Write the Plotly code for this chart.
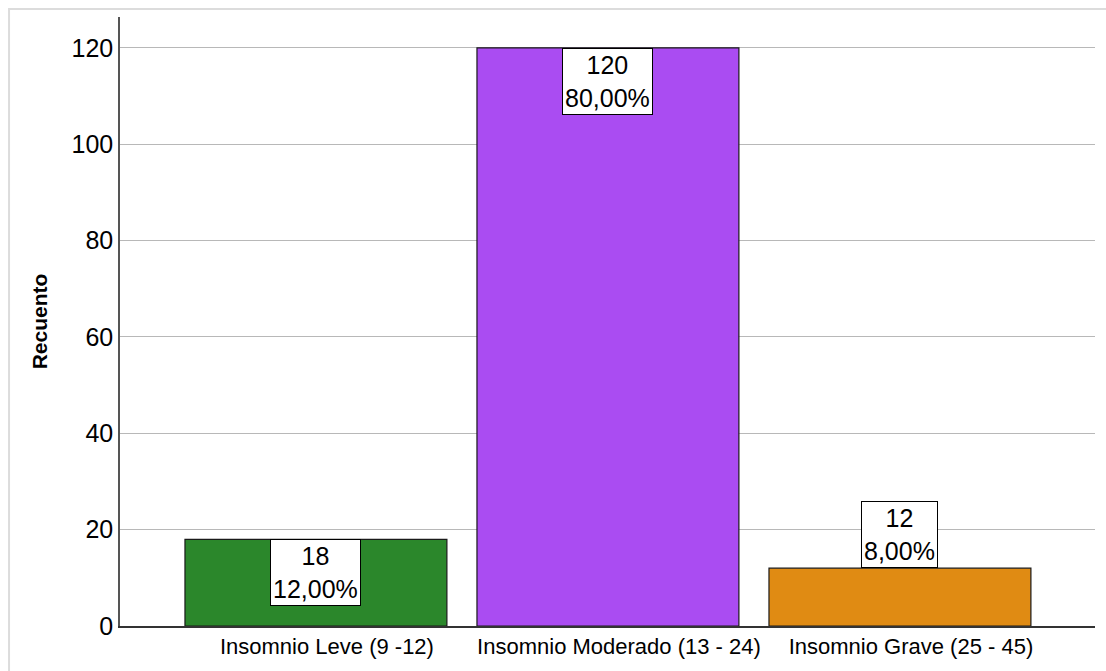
import plotly.graph_objects as go

# Insomnia severity categories and their counts
categorias = ["Insomnio Leve (9 -12)", "Insomnio Moderado (13 - 24)", "Insomnio Grave (25 - 45)"]
recuento = [18, 120, 12]
porcentaje = ["12,00%", "80,00%", "8,00%"]
colores = ["#2b872b", "#aa4cf2", "#e08b13"]
etiqueta_dentro = [True, True, False]

y_ticks = [0, 20, 40, 60, 80, 100, 120]

fig = go.Figure()
fig.add_trace(go.Bar(
    x=list(range(len(categorias))),
    y=recuento,
    width=0.897,
    marker=dict(color=colores, line=dict(color="#1a1a1a", width=1.2)),
    hoverinfo="skip",
))

# Count / percentage labels in white boxes
for i, (v, p, dentro) in enumerate(zip(recuento, porcentaje, etiqueta_dentro)):
    fig.add_annotation(
        x=i, y=v, xref="x", yref="y",
        text=f"{v}<br>{p}",
        showarrow=False,
        yanchor="top" if dentro else "bottom",
        xanchor="center",
        font=dict(family="Liberation Sans, Arial, sans-serif", size=25, color="#000000"),
        bgcolor="#ffffff",
        bordercolor="#000000",
        borderwidth=1,
        borderpad=2,
    )

# Outer light frame
fig.add_shape(
    type="rect", xref="paper", yref="paper",
    x0=-0.1138, x1=1.1, y0=-0.2, y1=1.0131,
    line=dict(color="#dcdcdc", width=2), fillcolor="rgba(0,0,0,0)", layer="below",
)

fig.update_layout(
    width=1106, height=671,
    margin=dict(l=120, r=11, t=17, b=45),
    paper_bgcolor="#ffffff",
    plot_bgcolor="#ffffff",
    showlegend=False,
    font=dict(family="Liberation Sans, Arial, sans-serif", color="#000000"),
    xaxis=dict(
        tickmode="array",
        tickvals=list(range(len(categorias))),
        ticktext=categorias,
        range=[-0.671, 2.668],
        showgrid=False,
        zeroline=False,
        showline=True, linecolor="#333333", linewidth=1.5,
        ticks="",
        ticklabelshift=11,
        tickfont=dict(size=22, color="#000000"),
    ),
    yaxis=dict(
        range=[0, 126.4],
        tickmode="array",
        tickvals=y_ticks,
        showgrid=True, gridcolor="#b8b8b8", gridwidth=1,
        zeroline=False,
        showline=True, linecolor="#555555", linewidth=1.5,
        ticks="",
        tickfont=dict(size=25, color="#000000"),
        title=dict(text="<b>Recuento</b>", font=dict(size=21, color="#000000"), standoff=18),
    ),
)

fig.write_html("out.html")
